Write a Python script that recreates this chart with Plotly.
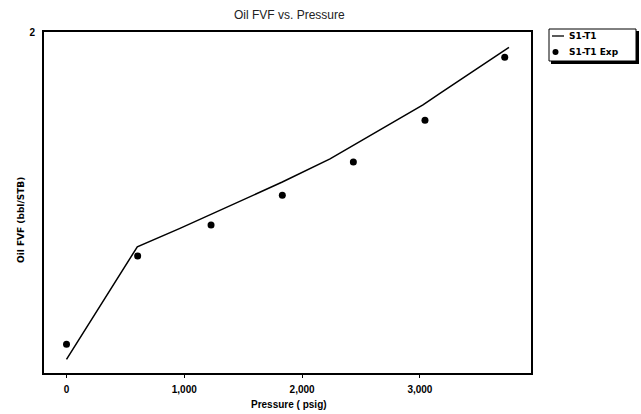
import plotly.graph_objects as go

# Simulated (line) series
sim_pressure = [0, 601, 963, 1227, 1832, 2237, 2435, 3026, 3170, 3756]
sim_fvf = [1.040, 1.370, 1.424, 1.465, 1.560, 1.628, 1.668, 1.786, 1.820, 1.955]

# Experimental (points) series
exp_pressure = [0, 604, 1227, 1832, 2435, 3043, 3720]
exp_fvf = [1.084, 1.343, 1.434, 1.521, 1.619, 1.741, 1.926]

x_ticks = [0, 1000, 2000, 3000]
x_ticktext = ["0", "1,000", "2,000", "3,000"]
y_ticks = [2]
y_ticktext = ["2"]

series_names = ["S1-T1", "S1-T1 Exp"]

W, H = 641, 414
L, R, T, B = 44, 531, 32, 373

FONT = "DejaVu Sans"
FONTB = "Liberation Sans"

fig = go.Figure()
fig.add_trace(go.Scatter(x=sim_pressure, y=sim_fvf, mode="lines",
                         line=dict(color="black", width=1.5),
                         name=series_names[0], showlegend=False))
fig.add_trace(go.Scatter(x=exp_pressure, y=exp_fvf, mode="markers",
                         marker=dict(color="black", size=7),
                         name=series_names[1], showlegend=False))

def px(x):
    return (x - L) / (R - L)

def py(y):
    return (B - y) / (B - T)

shapes = [
    # legend shadow
    dict(type="rect", xref="paper", yref="paper", x0=px(551), x1=px(639), y0=py(64), y1=py(31),
         fillcolor="black", line=dict(width=0), layer="above"),
    # legend box
    dict(type="rect", xref="paper", yref="paper", x0=px(549), x1=px(636), y0=py(61), y1=py(29),
         fillcolor="white", line=dict(color="black", width=1), layer="above"),
    # line sample
    dict(type="line", xref="paper", yref="paper", x0=px(552), x1=px(564), y0=py(36), y1=py(36),
         line=dict(color="black", width=1.3), layer="above"),
    # marker sample
    dict(type="circle", xref="paper", yref="paper", x0=px(552.5), x1=px(558.5), y0=py(55), y1=py(49),
         fillcolor="black", line=dict(color="black", width=0), layer="above"),
]

annotations = [
    dict(text="<b>" + series_names[0] + "</b>", xref="paper", yref="paper", x=px(567), y=py(36),
         xanchor="left", yanchor="middle", showarrow=False, font=dict(family=FONT, size=9, color="black")),
    dict(text="<b>" + series_names[1] + "</b>", xref="paper", yref="paper", x=px(567), y=py(52),
         xanchor="left", yanchor="middle", showarrow=False, font=dict(family=FONT, size=9, color="black")),
    dict(text="<b>Oil FVF (bbl/STB)</b>", xref="paper", yref="paper", x=px(21), y=py(220),
         xanchor="center", yanchor="middle", textangle=-90, showarrow=False,
         font=dict(family=FONT, size=9, color="black")),
    dict(text="<b>Pressure ( psig)</b>", xref="paper", yref="paper", x=px(289), y=py(404),
         xanchor="center", yanchor="middle", showarrow=False,
         font=dict(family=FONTB, size=10, color="black")),
    dict(text="Oil FVF vs. Pressure", xref="paper", yref="paper", x=px(289), y=py(15),
         xanchor="center", yanchor="middle", showarrow=False,
         font=dict(family=FONTB, size=12, color="#222222")),
]

fig.update_layout(
    width=W, height=H,
    margin=dict(l=L, r=W - R, t=T, b=H - B, pad=0),
    paper_bgcolor="white", plot_bgcolor="white",
    showlegend=False,
    shapes=shapes, annotations=annotations,
    xaxis=dict(range=[-191, 3943], tickvals=x_ticks,
               ticktext=["<b>" + t + "</b>" for t in x_ticktext],
               showgrid=False, zeroline=False, showline=True, mirror=True,
               linecolor="black", linewidth=2, ticks="outside", ticklen=3,
               tickcolor="black", tickwidth=1, ticklabelstandoff=3,
               tickfont=dict(family=FONTB, size=10, color="black")),
    yaxis=dict(range=[1.0, 2.0], tickvals=y_ticks,
               ticktext=["<b>" + t + "</b>" for t in y_ticktext],
               showgrid=False, zeroline=False, showline=True, mirror=True,
               linecolor="black", linewidth=2, ticks="", ticklabelstandoff=5,
               tickfont=dict(family=FONTB, size=10, color="black")),
)

fig.write_html("out.html")
